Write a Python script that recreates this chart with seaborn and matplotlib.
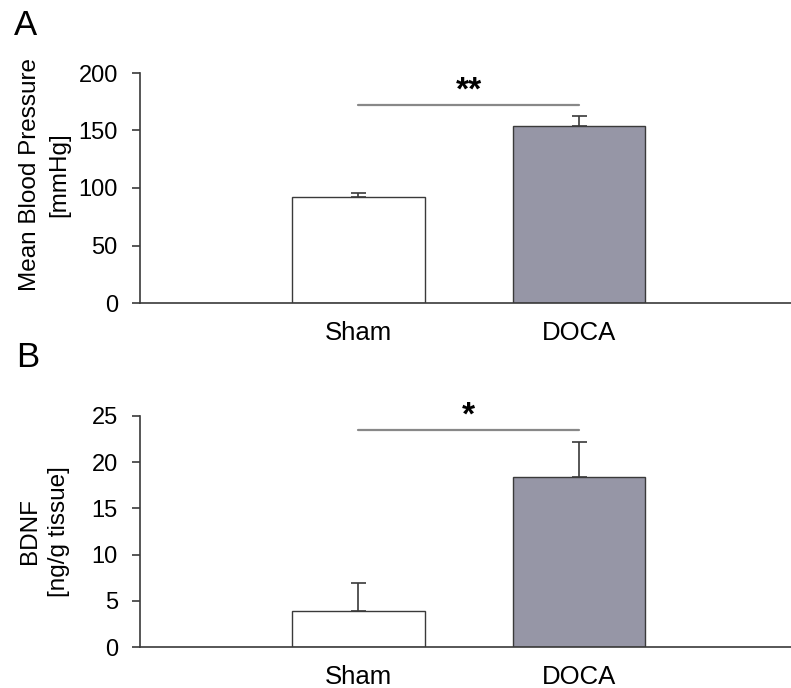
import matplotlib
matplotlib.use("Agg")
import matplotlib.pyplot as plt
import seaborn as sns
import pandas as pd
import numpy as np

groups = ["Sham", "DOCA"]
bp_mean = [92, 154]
bp_err = [4, 8.5]
bdnf_mean = [3.9, 18.4]
bdnf_err = [3.0, 3.8]
bar_colors = ["#ffffff", "#9393a9"]

sns.set_theme(style="white")
plt.rcParams['font.family'] = ['Liberation Sans', 'DejaVu Sans']

fig = plt.figure(figsize=(7.91, 6.88), dpi=100)
ax1 = fig.add_axes([140/791, 1-303/688, 1-140/791, (303-73)/688])
ax2 = fig.add_axes([140/791, 1-647/688, 1-140/791, (647-416)/688])

def panel(ax, means, errs, ylim, yticks, ylabel, label_y, sig_y, star, star_y):
    df = pd.DataFrame({"group": groups, "value": means})
    sns.barplot(data=df, x="group", y="value", hue="group", palette=bar_colors,
                order=groups, width=0.6, edgecolor="#3a3a3a", linewidth=1.0,
                errorbar=None, legend=False, ax=ax)
    ax.errorbar(range(len(groups)), means, yerr=[np.zeros(len(errs)), errs],
                fmt="none", ecolor="#3a3a3a", elinewidth=1.2, capsize=5.4, capthick=1.2)
    ax.set_xlim(-0.99, 1.96)
    ax.set_ylim(*ylim)
    ax.set_yticks(yticks)
    ax.set_xlabel("")
    ax.set_ylabel(ylabel, fontsize=17.5, color="black", linespacing=1.45)
    ax.yaxis.set_label_coords(-0.107, label_y)
    for s in ["top", "right"]:
        ax.spines[s].set_visible(False)
    for s in ["left", "bottom"]:
        ax.spines[s].set_color("#3a3a3a")
        ax.spines[s].set_linewidth(1.2)
    ax.tick_params(axis="y", left=True, length=6, width=1.2, color="#3a3a3a",
                   labelsize=17, labelcolor="black", pad=10)
    ax.tick_params(axis="x", bottom=False, labelsize=18.5, labelcolor="black", pad=7)
    ax.plot([0, 1], [sig_y, sig_y], color="#888888", lw=1.6, clip_on=False)
    ax.text(0.5, star_y, star, ha="center", va="center", fontsize=24,
            fontweight="bold", color="black")

panel(ax1, bp_mean, bp_err, (0, 200), [0, 50, 100, 150, 200],
      "Mean Blood Pressure\n[mmHg]", 0.56, 172.5, "**", 184)
panel(ax2, bdnf_mean, bdnf_err, (0, 25), [0, 5, 10, 15, 20, 25],
      "BDNF\n[ng/g tissue]", 0.5, 23.5, "*", 25.0)

fig.text(14/791, 1-9/688, "A", fontsize=25, ha="left", va="top", color="black")
fig.text(16/791, 1-341/688, "B", fontsize=25, ha="left", va="top", color="black")

fig.savefig("out.png", dpi=100)
